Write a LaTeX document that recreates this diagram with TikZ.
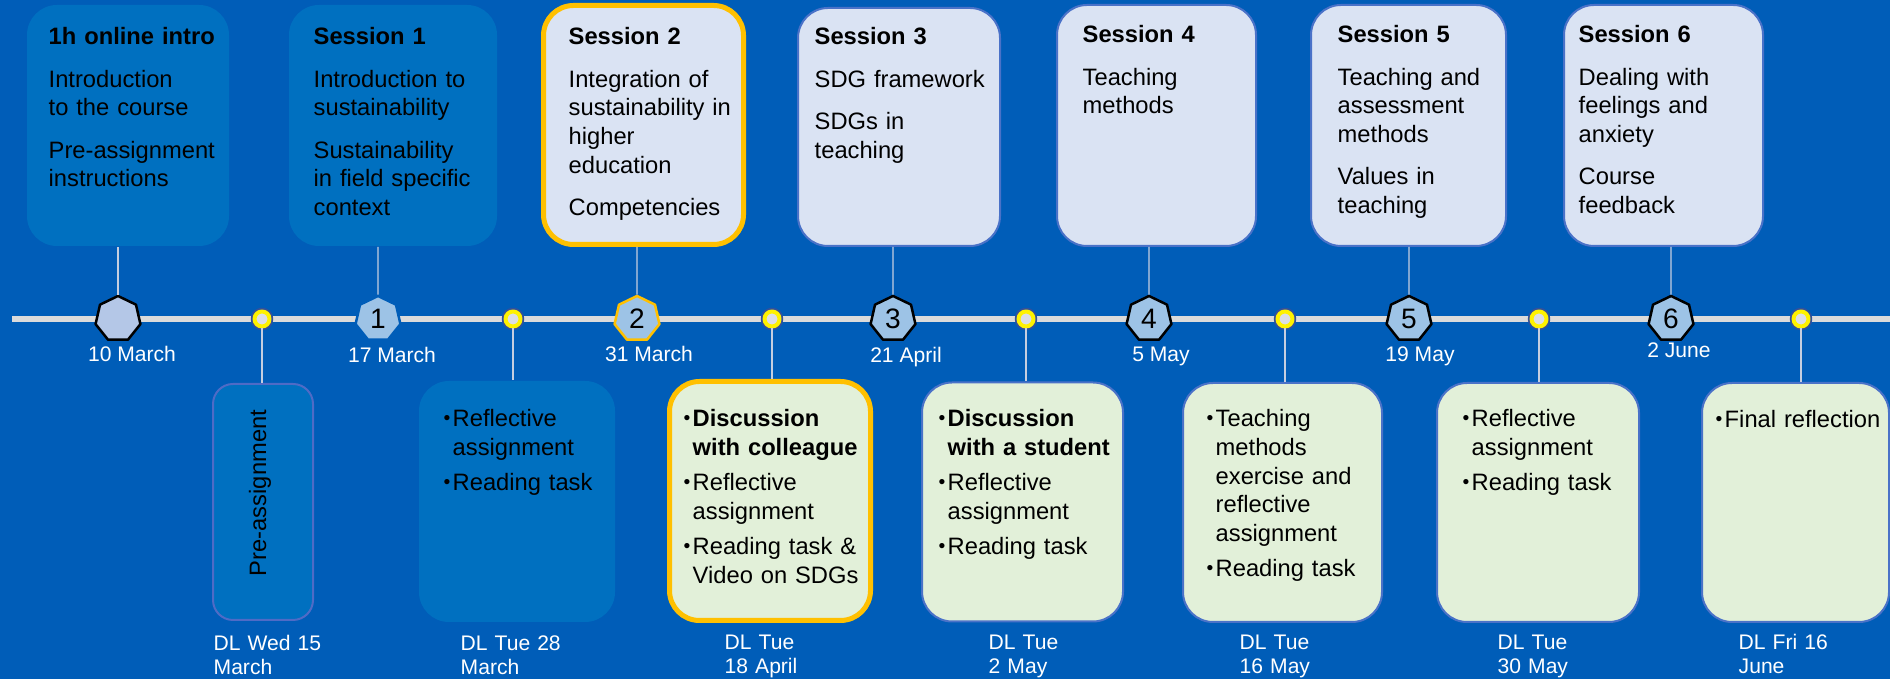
\documentclass[tikz,border=0pt]{standalone}
\usepackage{fontspec}
\setmainfont{Liberation Sans}
\usetikzlibrary{shapes.geometric}
\definecolor{bgblue}{HTML}{005DB8}
\definecolor{darkcard}{HTML}{0070C0}
\definecolor{lightcard}{HTML}{DAE3F3}
\definecolor{greencard}{HTML}{E2F0D9}
\definecolor{cardedge}{HTML}{4A72C8}
\definecolor{preedge}{HTML}{4F6BC6}
\definecolor{gold}{HTML}{FFC000}
\definecolor{hexfill}{HTML}{9DC3E6}
\definecolor{introfill}{HTML}{B4C7E7}
\definecolor{ringfill}{HTML}{DCDEE6}
\definecolor{ringedge}{HTML}{34509A}
\definecolor{linkgray}{HTML}{C5CEE0}
\newcommand\itm[1]{\hangindent=0.9mm\hangafter=1\noindent\makebox[0.9mm][l]{\raisebox{0.25mm}{\fontsize{5.5}{5.5}\selectfont\textbullet}}#1\par\vspace{0.67mm}}
\begin{document}
\begin{tikzpicture}[x=0.1mm, y=-0.1mm, line join=round, font=\fontsize{6.75}{8.15}\selectfont,
	topcard/.style={rectangle, rounded corners=3mm, fill=lightcard, draw=cardedge, line width=0.2mm, minimum height=24.1mm, inner sep=0pt},
	taskcard/.style={topcard, fill=greencard},
	bluecard/.style={topcard, fill=darkcard, draw=none},
	hilite/.style={draw=gold, line width=0.5mm},
	cardtxt/.style={anchor=base west, inner sep=0pt, text width=18.5mm, align=left},
	hept/.style={regular polygon, regular polygon sides=7, minimum size=4.6mm, inner sep=0pt, fill=hexfill, draw=black, line width=0.25mm, font=\fontsize{8}{8}\selectfont},
	ring/.style={circle, minimum size=1.5mm, inner sep=0pt, fill=ringfill, draw=yellow, line width=0.4mm, preaction={draw=ringedge, line width=0.75mm}},
	datelbl/.style={anchor=base, inner sep=0pt, text=white, font=\fontsize{6}{6.83}\selectfont},
	dl/.style={datelbl, anchor=base west, text width=12mm, align=left},
	link/.style={draw=linkgray, line width=0.12mm}]
	\fill[bgblue] (0,0) rectangle (1890,679);
	\useasboundingbox (0,0) rectangle (1890,679);
	% time line
	\coordinate (tlstart) at (12,319);
	\coordinate (tlend) at (1890,319);
	\draw[line width=0.65mm, draw=white!86!black] (tlstart) -- (tlend);
	% sessions above the line
	\node[bluecard, minimum width=20.2mm] (t0) at (128,125.5) {};
	\node[bluecard, minimum width=20.8mm] (t1) at (393,125.5) {};
	\node[topcard, hilite, minimum width=20mm, minimum height=23.9mm] (t2) at (643.5,125) {};
	\node[topcard, minimum width=20.2mm, minimum height=23.8mm] (t3) at (899,127) {};
	\node[topcard, minimum width=19.9mm] (t4) at (1156.5,125.5) {};
	\node[topcard, minimum width=19.5mm] (t5) at (1408.5,125.5) {};
	\node[topcard, minimum width=19.9mm] (t6) at (1663.5,125.5) {};
	\node[cardtxt] (t0txt) at (48,45) {\textbf{1h online intro}\\[1.36mm] Introduction\\to the course\\[1.36mm] Pre-assignment\\instructions};
	\node[cardtxt] (t1txt) at (313,45) {\textbf{Session 1}\\[1.36mm] Introduction to\\sustainability\\[1.36mm] Sustainability\\in field specific\\context};
	\node[cardtxt] (t2txt) at (568,45) {\textbf{Session 2}\\[1.36mm] Integration of\\sustainability in\\higher\\education\\[1.36mm] Competencies};
	\node[cardtxt] (t3txt) at (814,45) {\textbf{Session 3}\\[1.36mm] SDG framework\\[1.36mm] SDGs in\\teaching};
	\node[cardtxt] (t4txt) at (1082,43) {\textbf{Session 4}\\[1.36mm] Teaching\\methods};
	\node[cardtxt] (t5txt) at (1337,43) {\textbf{Session 5}\\[1.36mm] Teaching and\\assessment\\methods\\[1.36mm] Values in\\teaching};
	\node[cardtxt] (t6txt) at (1578,43) {\textbf{Session 6}\\[1.36mm] Dealing with\\feelings and\\anxiety\\[1.36mm] Course\\feedback};
	% tasks below the line
	\node[bluecard, rounded corners=2mm, draw=preedge, line width=0.2mm, minimum width=10mm, minimum height=23.6mm] (b1) at (263,502) {};
	\node[bluecard, minimum width=19.6mm] (b2) at (517,501.5) {};
	\node[taskcard, hilite, minimum width=20.1mm, minimum height=23.9mm] (b3) at (770,501) {};
	\node[taskcard, minimum width=20.1mm, minimum height=23.9mm] (b4) at (1022.5,502) {};
	\node[taskcard, minimum width=19.9mm, minimum height=23.9mm] (b5) at (1282.5,502.5) {};
	\node[taskcard, minimum width=20.2mm, minimum height=23.9mm] (b6) at (1538,502.5) {};
	\node[taskcard, minimum width=18.7mm, minimum height=23.9mm] (b7) at (1795.5,502.5) {};
	\node[rotate=90, inner sep=0pt] (b1txt) at (260,493) {Pre-assignment};
	\node[cardtxt] (b2txt) at (443,427) {\itm{Reflective\newline assignment}\itm{Reading task}};
	\node[cardtxt] (b3txt) at (683,427) {\itm{\textbf{Discussion\newline with colleague}}\itm{Reflective\newline assignment}\itm{Reading task \&\newline Video on SDGs}};
	\node[cardtxt] (b4txt) at (938,427) {\itm{\textbf{Discussion\newline with a student}}\itm{Reflective\newline assignment}\itm{Reading task}};
	\node[cardtxt] (b5txt) at (1206,427) {\itm{Teaching\newline methods\newline exercise and\newline reflective\newline assignment}\itm{Reading task}};
	\node[cardtxt] (b6txt) at (1462,427) {\itm{Reflective\newline assignment}\itm{Reading task}};
	\node[cardtxt] (b7txt) at (1715,428) {\itm{Final reflection}};
	% session markers and deadlines
	\node[hept, fill=introfill] (h0) at (118,319) {};
	\node[hept, draw=bgblue] (h1) at (378,319) {1};
	\node[hept, draw=gold] (h2) at (637,319) {2};
	\node[hept] (h3) at (893,319) {3};
	\node[hept] (h4) at (1149,319) {4};
	\node[hept] (h5) at (1409,319) {5};
	\node[hept] (h6) at (1671,319) {6};
	\node[ring] (c1) at (262,319) {};
	\node[ring] (c2) at (513,319) {};
	\node[ring] (c3) at (772,319) {};
	\node[ring] (c4) at (1026,319) {};
	\node[ring] (c5) at (1285,319) {};
	\node[ring] (c6) at (1539,319) {};
	\node[ring] (c7) at (1801,319) {};
	\foreach \h/\t in {h0/t0, h1/t1, h2/t2, h3/t3, h4/t4, h5/t5, h6/t6}
		\draw[link] (\h.north) -- (\h |- \t.south);
	\foreach \c/\b in {c1/b1, c2/b2, c3/b3, c4/b4, c5/b5, c6/b6, c7/b7}
		\draw[link] (\c.south) -- (\c |- \b.north);
	% dates
	\node[datelbl] (d0) at (132,362) {10 March};
	\node[datelbl] (d1) at (392,363) {17 March};
	\node[datelbl] (d2) at (649,362) {31 March};
	\node[datelbl] (d3) at (906,363) {21 April};
	\node[datelbl] (d4) at (1161,362) {5 May};
	\node[datelbl] (d5) at (1420,362) {19 May};
	\node[datelbl] (d6) at (1679,358) {2 June};
	\node[dl] (dl1) at (213,651) {DL Wed 15\\March};
	\node[dl] (dl2) at (460,651) {DL Tue 28\\March};
	\node[dl] (dl3) at (724,650) {DL Tue\\18 April};
	\node[dl] (dl4) at (988,650) {DL Tue\\2 May};
	\node[dl] (dl5) at (1239,650) {DL Tue\\16 May};
	\node[dl] (dl6) at (1497,650) {DL Tue\\30 May};
	\node[dl] (dl7) at (1738,650) {DL Fri 16\\June};
\end{tikzpicture}
\end{document}
